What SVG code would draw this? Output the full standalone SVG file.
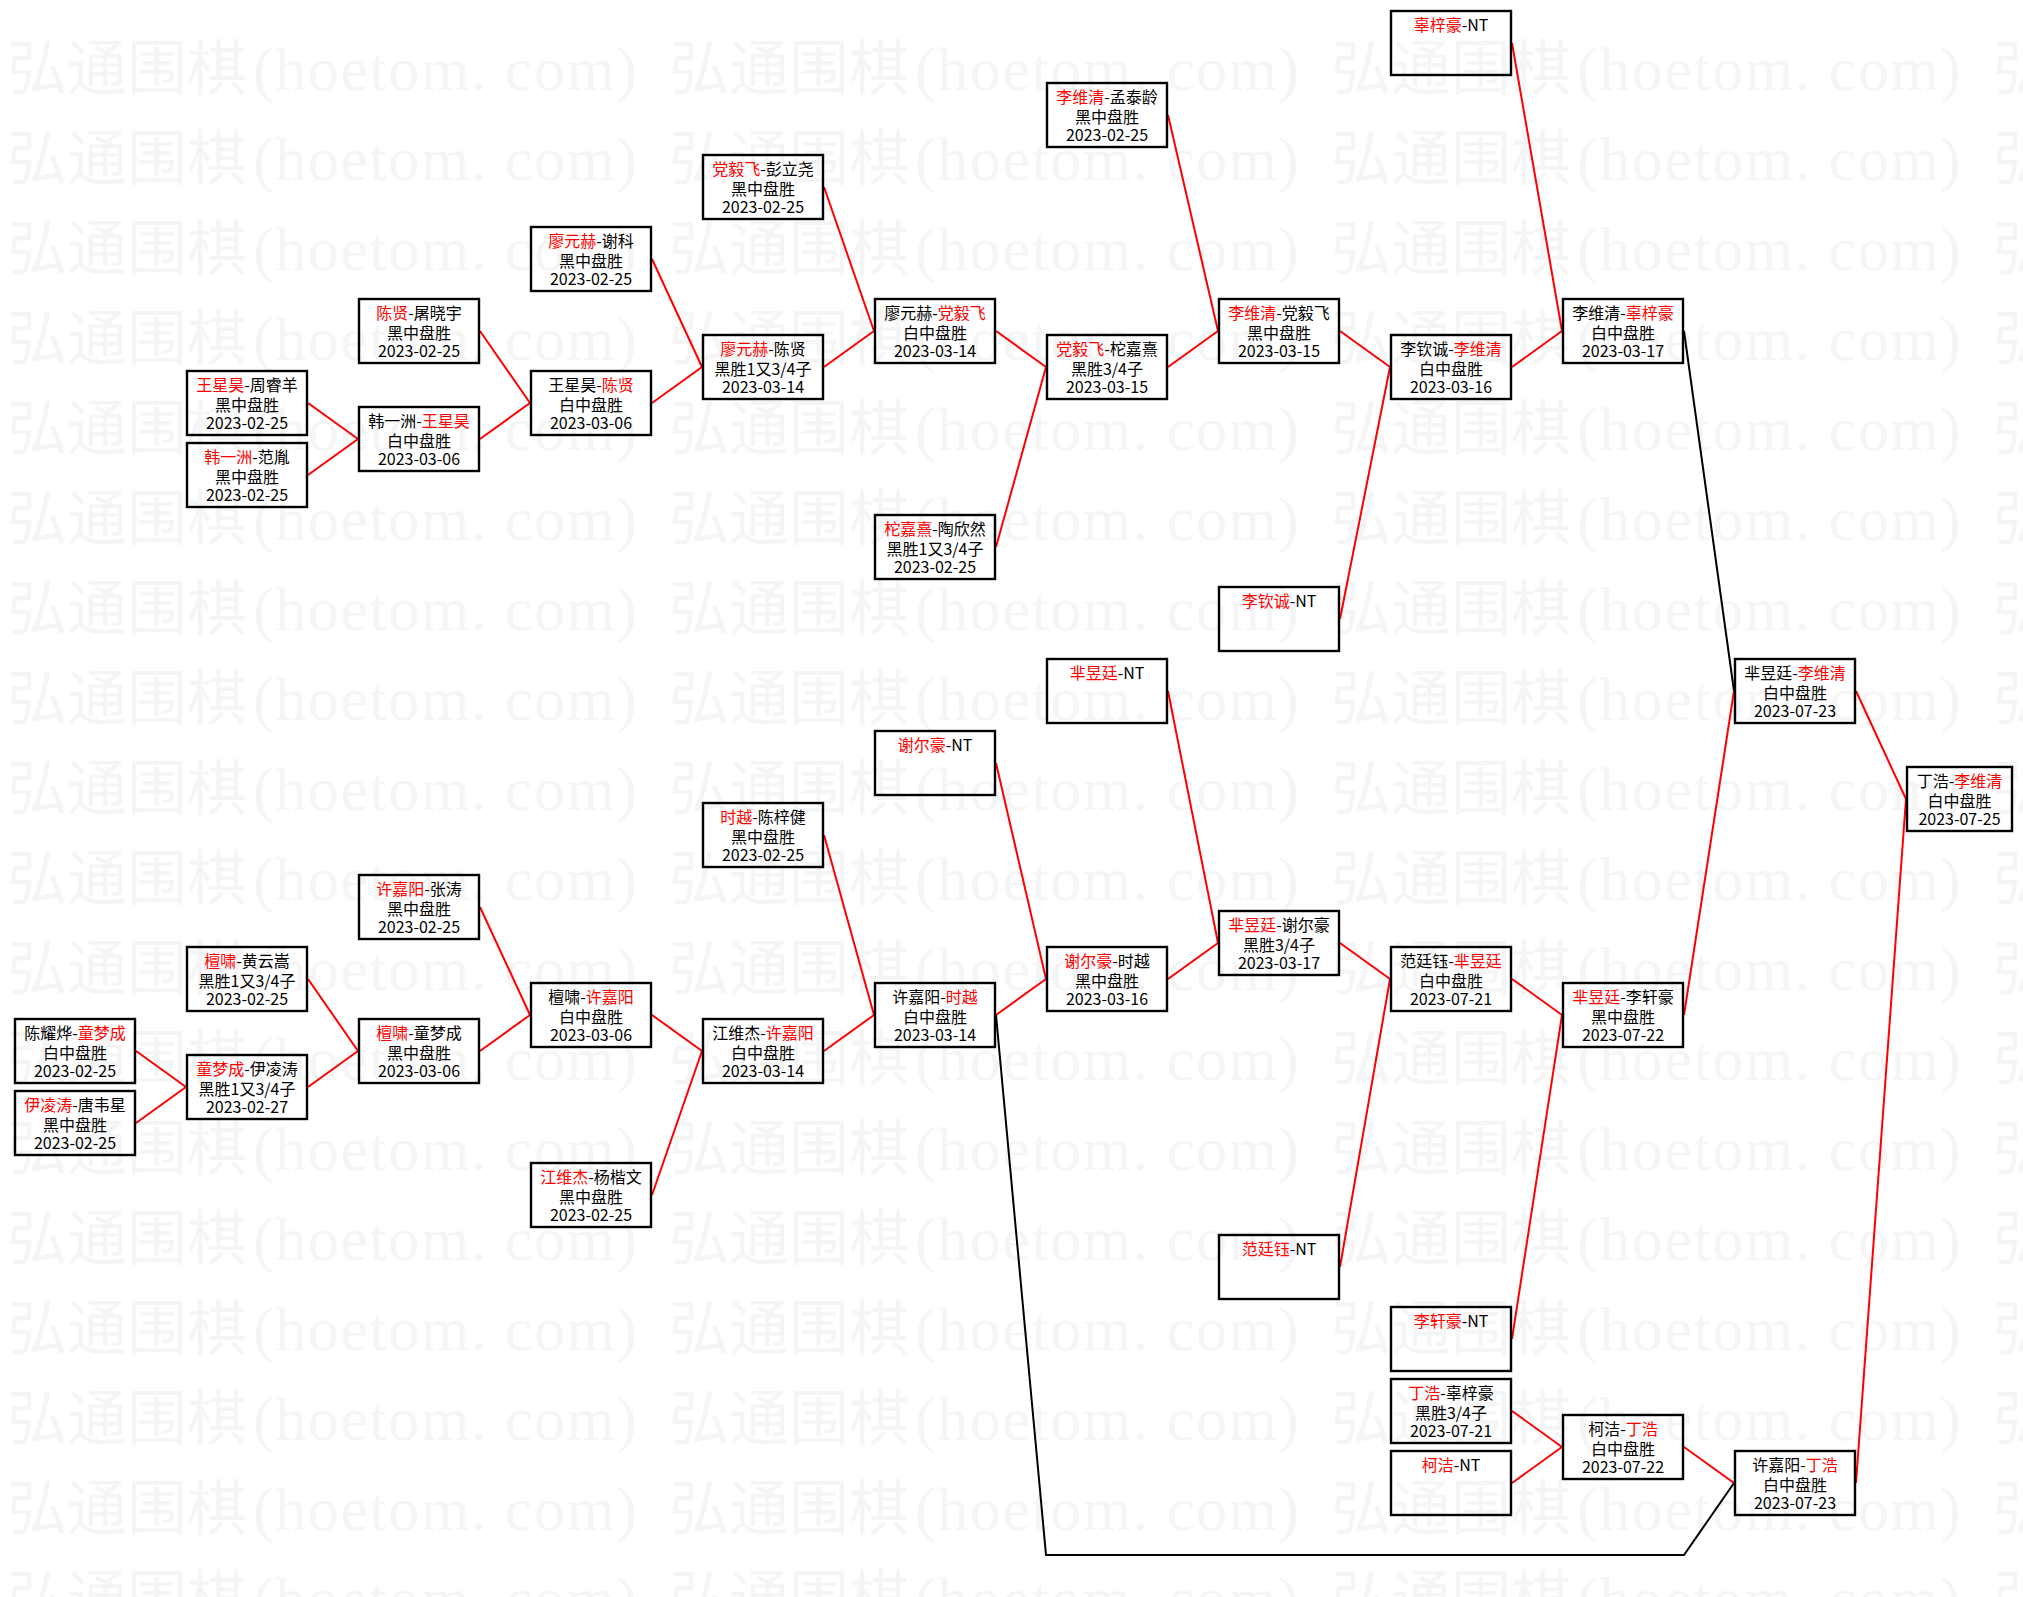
<svg xmlns="http://www.w3.org/2000/svg" xmlns:xlink="http://www.w3.org/1999/xlink" width="2023" height="1597" viewBox="0 0 2023 1597">
<style>
.wmc{font-family:"Noto Sans CJK SC","Noto Sans CJK JP",sans-serif;font-size:60px;fill:#f5f5f5}
.wml{font-family:"Liberation Serif",serif;font-size:62px;fill:#f5f5f5}
.node rect{fill:none;stroke:#000;stroke-width:2.4}
.node text{font-family:"Noto Sans CJK SC","Noto Sans CJK JP",sans-serif;font-size:16px;text-anchor:middle;fill:#000}
.node .r{fill:#f00}
.cr{fill:none;stroke:#f00;stroke-width:2}
.ck{fill:none;stroke:#000;stroke-width:2}
</style>
<defs>
<g id="wm">
<text class="wmc" x="0" y="0">弘通围棋</text>
<text class="wml" x="246" y="0" textLength="384" lengthAdjust="spacing">(hoetom. com)</text>
</g>
<g id="wmrow">
<use xlink:href="#wm" href="#wm" x="7"/>
<use xlink:href="#wm" href="#wm" x="669"/>
<use xlink:href="#wm" href="#wm" x="1331"/>
<use xlink:href="#wm" href="#wm" x="1993"/>
</g>
</defs>
<rect x="0" y="0" width="2023" height="1597" fill="#fff"/>
<g id="watermark">
<use xlink:href="#wmrow" href="#wmrow" y="90"/>
<use xlink:href="#wmrow" href="#wmrow" y="180"/>
<use xlink:href="#wmrow" href="#wmrow" y="270"/>
<use xlink:href="#wmrow" href="#wmrow" y="360"/>
<use xlink:href="#wmrow" href="#wmrow" y="450"/>
<use xlink:href="#wmrow" href="#wmrow" y="540"/>
<use xlink:href="#wmrow" href="#wmrow" y="630"/>
<use xlink:href="#wmrow" href="#wmrow" y="720"/>
<use xlink:href="#wmrow" href="#wmrow" y="810"/>
<use xlink:href="#wmrow" href="#wmrow" y="900"/>
<use xlink:href="#wmrow" href="#wmrow" y="990"/>
<use xlink:href="#wmrow" href="#wmrow" y="1080"/>
<use xlink:href="#wmrow" href="#wmrow" y="1170"/>
<use xlink:href="#wmrow" href="#wmrow" y="1260"/>
<use xlink:href="#wmrow" href="#wmrow" y="1350"/>
<use xlink:href="#wmrow" href="#wmrow" y="1440"/>
<use xlink:href="#wmrow" href="#wmrow" y="1530"/>
<use xlink:href="#wmrow" href="#wmrow" y="1620"/>
</g>

<g id="connectors">
<path class="cr" d="M308 403L358 439"/>
<path class="cr" d="M308 475L358 439"/>
<path class="cr" d="M480 331L530 403"/>
<path class="cr" d="M480 439L530 403"/>
<path class="cr" d="M652 259L702 367"/>
<path class="cr" d="M652 403L702 367"/>
<path class="cr" d="M824 187L874 331"/>
<path class="cr" d="M824 367L874 331"/>
<path class="cr" d="M996 331L1046 367"/>
<path class="cr" d="M996 547L1046 367"/>
<path class="cr" d="M1168 115L1218 331"/>
<path class="cr" d="M1168 367L1218 331"/>
<path class="cr" d="M1340 331L1390 367"/>
<path class="cr" d="M1340 619L1390 367"/>
<path class="cr" d="M1512 43L1562 331"/>
<path class="cr" d="M1512 367L1562 331"/>
<path class="ck" d="M1684 331L1734 691"/>
<path class="cr" d="M1856 691L1906 799"/>
<path class="cr" d="M136 1051L186 1087"/>
<path class="cr" d="M136 1123L186 1087"/>
<path class="cr" d="M308 979L358 1051"/>
<path class="cr" d="M308 1087L358 1051"/>
<path class="cr" d="M480 907L530 1015"/>
<path class="cr" d="M480 1051L530 1015"/>
<path class="cr" d="M652 1015L702 1051"/>
<path class="cr" d="M652 1195L702 1051"/>
<path class="cr" d="M824 835L874 1015"/>
<path class="cr" d="M824 1051L874 1015"/>
<path class="cr" d="M996 763L1046 979"/>
<path class="cr" d="M996 1015L1046 979"/>
<path class="ck" d="M996 1015L1046 1555L1684 1555L1734 1483"/>
<path class="cr" d="M1168 691L1218 943"/>
<path class="cr" d="M1168 979L1218 943"/>
<path class="cr" d="M1340 943L1390 979"/>
<path class="cr" d="M1340 1267L1390 979"/>
<path class="cr" d="M1512 979L1562 1015"/>
<path class="cr" d="M1512 1339L1562 1015"/>
<path class="cr" d="M1512 1411L1562 1447"/>
<path class="cr" d="M1512 1483L1562 1447"/>
<path class="cr" d="M1684 1015L1734 691"/>
<path class="cr" d="M1684 1447L1734 1483"/>
<path class="cr" d="M1856 1483L1906 799"/>
</g>

<!-- column 0 -->
<g id="n-chenyaoye-tongmengcheng" class="node" transform="translate(14,1018)"><rect x="1" y="1" width="120" height="64"/><text x="61" y="21">陈耀烨-<tspan class="r">童梦成</tspan></text><text x="61" y="40.5">白中盘胜</text><text x="61" y="59">2023-02-25</text></g>
<g id="n-yilingtao-tangweixing" class="node" transform="translate(14,1090)"><rect x="1" y="1" width="120" height="64"/><text x="61" y="21"><tspan class="r">伊凌涛</tspan>-唐韦星</text><text x="61" y="40.5">黑中盘胜</text><text x="61" y="59">2023-02-25</text></g>

<!-- column 1 -->
<g id="n-wangxinghao-zhouruiyang" class="node" transform="translate(186,370)"><rect x="1" y="1" width="120" height="64"/><text x="61" y="21"><tspan class="r">王星昊</tspan>-周睿羊</text><text x="61" y="40.5">黑中盘胜</text><text x="61" y="59">2023-02-25</text></g>
<g id="n-hanyizhou-fanyin" class="node" transform="translate(186,442)"><rect x="1" y="1" width="120" height="64"/><text x="61" y="21"><tspan class="r">韩一洲</tspan>-范胤</text><text x="61" y="40.5">黑中盘胜</text><text x="61" y="59">2023-02-25</text></g>
<g id="n-tanxiao-huangyunsong" class="node" transform="translate(186,946)"><rect x="1" y="1" width="120" height="64"/><text x="61" y="21"><tspan class="r">檀啸</tspan>-黄云嵩</text><text x="61" y="40.5">黑胜1又3/4子</text><text x="61" y="59">2023-02-25</text></g>
<g id="n-tongmengcheng-yilingtao" class="node" transform="translate(186,1054)"><rect x="1" y="1" width="120" height="64"/><text x="61" y="21"><tspan class="r">童梦成</tspan>-伊凌涛</text><text x="61" y="40.5">黑胜1又3/4子</text><text x="61" y="59">2023-02-27</text></g>

<!-- column 2 -->
<g id="n-chenxian-tuxiaoyu" class="node" transform="translate(358,298)"><rect x="1" y="1" width="120" height="64"/><text x="61" y="21"><tspan class="r">陈贤</tspan>-屠晓宇</text><text x="61" y="40.5">黑中盘胜</text><text x="61" y="59">2023-02-25</text></g>
<g id="n-hanyizhou-wangxinghao" class="node" transform="translate(358,406)"><rect x="1" y="1" width="120" height="64"/><text x="61" y="21">韩一洲-<tspan class="r">王星昊</tspan></text><text x="61" y="40.5">白中盘胜</text><text x="61" y="59">2023-03-06</text></g>
<g id="n-xujiayang-zhangtao" class="node" transform="translate(358,874)"><rect x="1" y="1" width="120" height="64"/><text x="61" y="21"><tspan class="r">许嘉阳</tspan>-张涛</text><text x="61" y="40.5">黑中盘胜</text><text x="61" y="59">2023-02-25</text></g>
<g id="n-tanxiao-tongmengcheng" class="node" transform="translate(358,1018)"><rect x="1" y="1" width="120" height="64"/><text x="61" y="21"><tspan class="r">檀啸</tspan>-童梦成</text><text x="61" y="40.5">黑中盘胜</text><text x="61" y="59">2023-03-06</text></g>

<!-- column 3 -->
<g id="n-liaoyuanhe-xieke" class="node" transform="translate(530,226)"><rect x="1" y="1" width="120" height="64"/><text x="61" y="21"><tspan class="r">廖元赫</tspan>-谢科</text><text x="61" y="40.5">黑中盘胜</text><text x="61" y="59">2023-02-25</text></g>
<g id="n-wangxinghao-chenxian" class="node" transform="translate(530,370)"><rect x="1" y="1" width="120" height="64"/><text x="61" y="21">王星昊-<tspan class="r">陈贤</tspan></text><text x="61" y="40.5">白中盘胜</text><text x="61" y="59">2023-03-06</text></g>
<g id="n-tanxiao-xujiayang" class="node" transform="translate(530,982)"><rect x="1" y="1" width="120" height="64"/><text x="61" y="21">檀啸-<tspan class="r">许嘉阳</tspan></text><text x="61" y="40.5">白中盘胜</text><text x="61" y="59">2023-03-06</text></g>
<g id="n-jiangweijie-yangkaiwen" class="node" transform="translate(530,1162)"><rect x="1" y="1" width="120" height="64"/><text x="61" y="21"><tspan class="r">江维杰</tspan>-杨楷文</text><text x="61" y="40.5">黑中盘胜</text><text x="61" y="59">2023-02-25</text></g>

<!-- column 4 -->
<g id="n-dangyifei-penglirao" class="node" transform="translate(702,154)"><rect x="1" y="1" width="120" height="64"/><text x="61" y="21"><tspan class="r">党毅飞</tspan>-彭立尧</text><text x="61" y="40.5">黑中盘胜</text><text x="61" y="59">2023-02-25</text></g>
<g id="n-liaoyuanhe-chenxian" class="node" transform="translate(702,334)"><rect x="1" y="1" width="120" height="64"/><text x="61" y="21"><tspan class="r">廖元赫</tspan>-陈贤</text><text x="61" y="40.5">黑胜1又3/4子</text><text x="61" y="59">2023-03-14</text></g>
<g id="n-shiyue-chenzijian" class="node" transform="translate(702,802)"><rect x="1" y="1" width="120" height="64"/><text x="61" y="21"><tspan class="r">时越</tspan>-陈梓健</text><text x="61" y="40.5">黑中盘胜</text><text x="61" y="59">2023-02-25</text></g>
<g id="n-jiangweijie-xujiayang" class="node" transform="translate(702,1018)"><rect x="1" y="1" width="120" height="64"/><text x="61" y="21">江维杰-<tspan class="r">许嘉阳</tspan></text><text x="61" y="40.5">白中盘胜</text><text x="61" y="59">2023-03-14</text></g>

<!-- column 5 -->
<g id="n-liaoyuanhe-dangyifei" class="node" transform="translate(874,298)"><rect x="1" y="1" width="120" height="64"/><text x="61" y="21">廖元赫-<tspan class="r">党毅飞</tspan></text><text x="61" y="40.5">白中盘胜</text><text x="61" y="59">2023-03-14</text></g>
<g id="n-tuojiaxi-taoxinran" class="node" transform="translate(874,514)"><rect x="1" y="1" width="120" height="64"/><text x="61" y="21"><tspan class="r">柁嘉熹</tspan>-陶欣然</text><text x="61" y="40.5">黑胜1又3/4子</text><text x="61" y="59">2023-02-25</text></g>
<g id="n-xieerhao-nt" class="node" transform="translate(874,730)"><rect x="1" y="1" width="120" height="64"/><text x="61" y="21"><tspan class="r">谢尔豪</tspan>-NT</text></g>
<g id="n-xujiayang-shiyue" class="node" transform="translate(874,982)"><rect x="1" y="1" width="120" height="64"/><text x="61" y="21">许嘉阳-<tspan class="r">时越</tspan></text><text x="61" y="40.5">白中盘胜</text><text x="61" y="59">2023-03-14</text></g>

<!-- column 6 -->
<g id="n-liweiqing-mengtailing" class="node" transform="translate(1046,82)"><rect x="1" y="1" width="120" height="64"/><text x="61" y="21"><tspan class="r">李维清</tspan>-孟泰龄</text><text x="61" y="40.5">黑中盘胜</text><text x="61" y="59">2023-02-25</text></g>
<g id="n-dangyifei-tuojiaxi" class="node" transform="translate(1046,334)"><rect x="1" y="1" width="120" height="64"/><text x="61" y="21"><tspan class="r">党毅飞</tspan>-柁嘉熹</text><text x="61" y="40.5">黑胜3/4子</text><text x="61" y="59">2023-03-15</text></g>
<g id="n-miyuting-nt" class="node" transform="translate(1046,658)"><rect x="1" y="1" width="120" height="64"/><text x="61" y="21"><tspan class="r">芈昱廷</tspan>-NT</text></g>
<g id="n-xieerhao-shiyue" class="node" transform="translate(1046,946)"><rect x="1" y="1" width="120" height="64"/><text x="61" y="21"><tspan class="r">谢尔豪</tspan>-时越</text><text x="61" y="40.5">黑中盘胜</text><text x="61" y="59">2023-03-16</text></g>

<!-- column 7 -->
<g id="n-liweiqing-dangyifei" class="node" transform="translate(1218,298)"><rect x="1" y="1" width="120" height="64"/><text x="61" y="21"><tspan class="r">李维清</tspan>-党毅飞</text><text x="61" y="40.5">黑中盘胜</text><text x="61" y="59">2023-03-15</text></g>
<g id="n-liqincheng-nt" class="node" transform="translate(1218,586)"><rect x="1" y="1" width="120" height="64"/><text x="61" y="21"><tspan class="r">李钦诚</tspan>-NT</text></g>
<g id="n-miyuting-xieerhao" class="node" transform="translate(1218,910)"><rect x="1" y="1" width="120" height="64"/><text x="61" y="21"><tspan class="r">芈昱廷</tspan>-谢尔豪</text><text x="61" y="40.5">黑胜3/4子</text><text x="61" y="59">2023-03-17</text></g>
<g id="n-fantingyu-nt" class="node" transform="translate(1218,1234)"><rect x="1" y="1" width="120" height="64"/><text x="61" y="21"><tspan class="r">范廷钰</tspan>-NT</text></g>

<!-- column 8 -->
<g id="n-guzihao-nt" class="node" transform="translate(1390,10)"><rect x="1" y="1" width="120" height="64"/><text x="61" y="21"><tspan class="r">辜梓豪</tspan>-NT</text></g>
<g id="n-liqincheng-liweiqing" class="node" transform="translate(1390,334)"><rect x="1" y="1" width="120" height="64"/><text x="61" y="21">李钦诚-<tspan class="r">李维清</tspan></text><text x="61" y="40.5">白中盘胜</text><text x="61" y="59">2023-03-16</text></g>
<g id="n-fantingyu-miyuting" class="node" transform="translate(1390,946)"><rect x="1" y="1" width="120" height="64"/><text x="61" y="21">范廷钰-<tspan class="r">芈昱廷</tspan></text><text x="61" y="40.5">白中盘胜</text><text x="61" y="59">2023-07-21</text></g>
<g id="n-lixuanhao-nt" class="node" transform="translate(1390,1306)"><rect x="1" y="1" width="120" height="64"/><text x="61" y="21"><tspan class="r">李轩豪</tspan>-NT</text></g>
<g id="n-dinghao-guzihao" class="node" transform="translate(1390,1378)"><rect x="1" y="1" width="120" height="64"/><text x="61" y="21"><tspan class="r">丁浩</tspan>-辜梓豪</text><text x="61" y="40.5">黑胜3/4子</text><text x="61" y="59">2023-07-21</text></g>
<g id="n-kejie-nt" class="node" transform="translate(1390,1450)"><rect x="1" y="1" width="120" height="64"/><text x="61" y="21"><tspan class="r">柯洁</tspan>-NT</text></g>

<!-- column 9 -->
<g id="n-liweiqing-guzihao" class="node" transform="translate(1562,298)"><rect x="1" y="1" width="120" height="64"/><text x="61" y="21">李维清-<tspan class="r">辜梓豪</tspan></text><text x="61" y="40.5">白中盘胜</text><text x="61" y="59">2023-03-17</text></g>
<g id="n-miyuting-lixuanhao" class="node" transform="translate(1562,982)"><rect x="1" y="1" width="120" height="64"/><text x="61" y="21"><tspan class="r">芈昱廷</tspan>-李轩豪</text><text x="61" y="40.5">黑中盘胜</text><text x="61" y="59">2023-07-22</text></g>
<g id="n-kejie-dinghao" class="node" transform="translate(1562,1414)"><rect x="1" y="1" width="120" height="64"/><text x="61" y="21">柯洁-<tspan class="r">丁浩</tspan></text><text x="61" y="40.5">白中盘胜</text><text x="61" y="59">2023-07-22</text></g>

<!-- column 10 -->
<g id="n-miyuting-liweiqing" class="node" transform="translate(1734,658)"><rect x="1" y="1" width="120" height="64"/><text x="61" y="21">芈昱廷-<tspan class="r">李维清</tspan></text><text x="61" y="40.5">白中盘胜</text><text x="61" y="59">2023-07-23</text></g>
<g id="n-xujiayang-dinghao" class="node" transform="translate(1734,1450)"><rect x="1" y="1" width="120" height="64"/><text x="61" y="21">许嘉阳-<tspan class="r">丁浩</tspan></text><text x="61" y="40.5">白中盘胜</text><text x="61" y="59">2023-07-23</text></g>

<!-- column 11 -->
<g id="n-dinghao-liweiqing" class="node" transform="translate(1906,766)"><rect x="1" y="1" width="105" height="64"/><text x="53.5" y="21">丁浩-<tspan class="r">李维清</tspan></text><text x="53.5" y="40.5">白中盘胜</text><text x="53.5" y="59">2023-07-25</text></g>
</svg>
